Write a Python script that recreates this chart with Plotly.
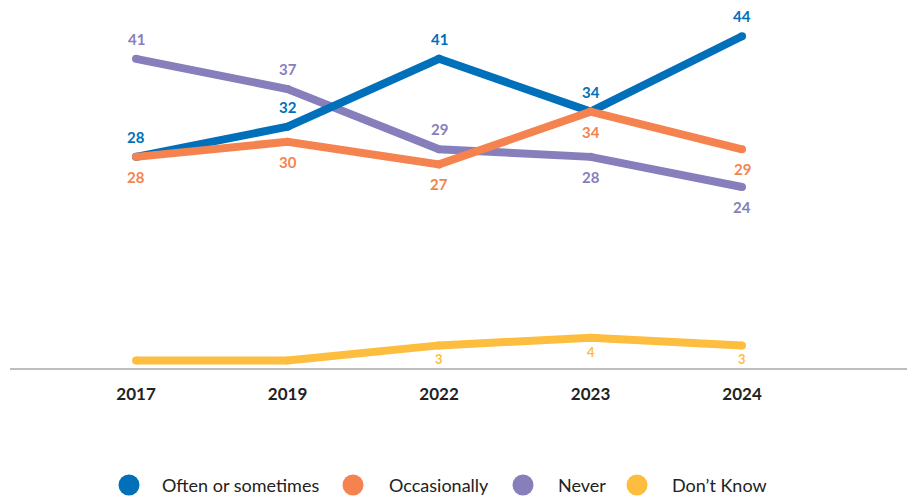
import plotly.graph_objects as go

years = ["2017", "2019", "2022", "2023", "2024"]

often = [28, 32, 41, 34, 44]
occasionally = [28, 30, 27, 34, 29]
never = [41, 37, 29, 28, 24]
dont_know = [1, 1, 3, 4, 3]

# which points carry a value label (yellow series is labelled from 2022 on)
dont_know_labelled = [False, False, True, True, True]
# label side per point: +1 above the line, -1 below
often_side = [1, 1, 1, 1, 1]
occasionally_side = [-1, -1, -1, -1, -1]
never_side = [1, 1, 1, -1, -1]
dont_know_side = [-1, -1, -1, -1, -1]

BLUE = "#0070BA"
ORANGE = "#F5834F"
PURPLE = "#867FBC"
YELLOW = "#FDBE3F"

FONT = "Lato"

series = [
    # name, values, colour, label sides, labelled flags
    ("Often or sometimes", often, BLUE, often_side, [True] * 5),
    ("Occasionally", occasionally, ORANGE, occasionally_side, [True] * 5),
    ("Never", never, PURPLE, never_side, [True] * 5),
    ("Don\u2019t Know", dont_know, YELLOW, dont_know_side, dont_know_labelled),
]

# stacking order of the lines (last drawn is on top)
draw_order = [3, 2, 0, 1]

fig = go.Figure()

for idx in draw_order:
    name, vals, col, _, _ = series[idx]
    fig.add_trace(go.Scatter(
        x=years, y=vals, mode="lines+markers", name=name,
        line=dict(color=col, width=8),
        marker=dict(color=col, size=8),
        showlegend=False, hoverinfo="x+y+name",
    ))

annotations = []
for name, vals, col, sides, flags in series:
    small = name.startswith("Don")
    for i, (v, s, f) in enumerate(zip(vals, sides, flags)):
        if not f:
            continue
        annotations.append(dict(
            x=i, y=v, xref="x", yref="y", text=str(v), showarrow=False,
            yshift=(14 if small else 20) * s,
            font=dict(family=FONT, size=13 if small else 15, color=col, weight="bold"),
        ))

# key row beneath the axis: filled circle + series name
PLOT_L, PLOT_W, AXIS_Y, PLOT_H = 10, 897, 368, 348
key_circle_px = [129, 353, 523, 637]
key_text_px = [160, 387, 556, 670]
key_y_px = 485
shapes = []
for (name, _, col, _, _), cx, tx in zip(series, key_circle_px, key_text_px):
    xp = (cx - PLOT_L) / PLOT_W
    yp = (AXIS_Y - key_y_px) / PLOT_H
    shapes.append(dict(
        type="circle", xref="paper", yref="paper",
        xsizemode="pixel", ysizemode="pixel",
        xanchor=xp, yanchor=yp, x0=-10.5, x1=10.5, y0=-10.5, y1=10.5,
        fillcolor=col, line=dict(width=0),
    ))
    annotations.append(dict(
        x=(tx - PLOT_L) / PLOT_W, y=yp, xref="paper", yref="paper",
        xanchor="left", yanchor="middle", text=name, showarrow=False,
        font=dict(family=FONT, size=18, color="#222222"),
    ))

fig.update_layout(
    width=907, height=500,
    margin=dict(l=PLOT_L, r=0, t=20, b=132),
    paper_bgcolor="white", plot_bgcolor="white",
    annotations=annotations, shapes=shapes,
    showlegend=False,
    xaxis=dict(
        type="category", range=[-0.832, 5.089],
        showgrid=False, zeroline=False,
        showline=True, linecolor="#BDBDBD", linewidth=2,
        ticks="", ticklabelstandoff=10,
        tickfont=dict(family=FONT, size=17, color="#222222", weight="bold"),
    ),
    yaxis=dict(
        range=[0, 46.15], visible=False, showgrid=False, zeroline=False,
    ),
)

fig.write_html("out.html")
